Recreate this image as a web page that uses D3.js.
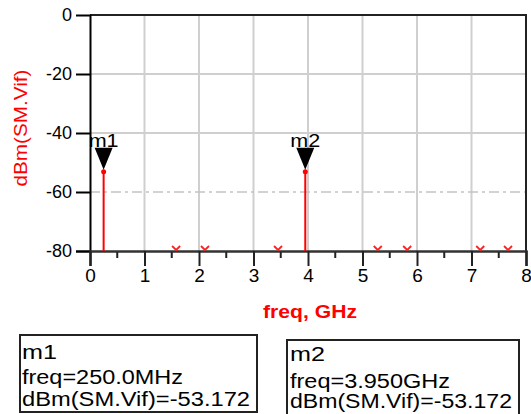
<!DOCTYPE html>
<html>
<head>
<meta charset="utf-8">
<script src="https://cdn.jsdelivr.net/npm/d3@7"></script>
<style>
  html, body { margin: 0; padding: 0; background: #fff; }
  svg { display: block; font-family: "Liberation Sans", Arial, sans-serif; }
</style>
</head>
<body>
<svg id="chart" width="531" height="414"></svg>
<script>
// Spectrum of SM.Vif (dBm) versus frequency (GHz)
const markerNames = ["m1", "m2"];
const markerFreqs = [0.25, 3.95];          // GHz
const markerValues = [-53.172, -53.172];   // dBm
const markerFreqText = ["250.0MHz", "3.950GHz"];

// tones that fall below the bottom of the plotted range (shown as clip arrows)
const offScaleFreqs = [1.58, 2.11, 3.45, 5.28, 5.82, 7.16, 7.67];

const xTicks = [0, 1, 2, 3, 4, 5, 6, 7, 8];
const xMinorTicks = [0.5, 1.5, 2.5, 3.5, 4.5, 5.5, 6.5, 7.5];
const yTicks = [0, -20, -40, -60, -80];

const svg = d3.select("#chart");
const x = d3.scaleLinear().domain([0, 8]).range([90, 526]);
const y = d3.scaleLinear().domain([-80, 0]).range([251, 15]);

// grid
const grid = svg.append("g");
grid.selectAll("line.vg").data(xTicks.slice(1, -1)).join("line")
  .attr("x1", d => x(d)).attr("x2", d => x(d))
  .attr("y1", y(0)).attr("y2", y(-80))
  .attr("stroke", "#cfcfcf").attr("stroke-width", 2);
grid.selectAll("line.hg").data([-20, -40]).join("line")
  .attr("x1", x(0)).attr("x2", x(8))
  .attr("y1", d => y(d)).attr("y2", d => y(d))
  .attr("stroke", "#cfcfcf").attr("stroke-width", 2);
grid.append("line")
  .attr("x1", x(0)).attr("x2", x(8))
  .attr("y1", y(-60)).attr("y2", y(-60))
  .attr("stroke", "#c4c4c4").attr("stroke-width", 1.5)
  .attr("stroke-dasharray", "10,4,3,4");

// frame (top and right)
svg.append("path")
  .attr("d", `M${x(0)},${y(0)}H${x(8)}V${y(-80)}`)
  .attr("fill", "none").attr("stroke", "#222").attr("stroke-width", 2);

// y axis
const yAxis = svg.append("g")
  .attr("transform", `translate(${x(0)},0)`)
  .call(d3.axisLeft(y).tickValues(yTicks).tickSize(14).tickPadding(4)
    .tickFormat(d => String(d)));
yAxis.select(".domain").attr("stroke", "#000").attr("stroke-width", 2);
yAxis.selectAll(".tick line").attr("stroke", "#000").attr("stroke-width", 2)
  .filter(d => d === 0).remove();
yAxis.selectAll(".tick text").attr("font-size", 18).attr("fill", "#000")
  .attr("font-family", "Liberation Sans, Arial, sans-serif");

// x axis
const xAxis = svg.append("g")
  .attr("transform", `translate(0,${y(-80)})`)
  .call(d3.axisBottom(x).tickValues(xTicks).tickSize(15).tickFormat(d => String(d)));
xAxis.select(".domain").attr("stroke", "#333").attr("stroke-width", 2.5);
xAxis.selectAll(".tick line").attr("stroke", "#222").attr("stroke-width", 2);
xAxis.selectAll(".tick text").attr("font-size", 19).attr("fill", "#000")
  .attr("y", 31).attr("dy", 0)
  .attr("font-family", "Liberation Sans, Arial, sans-serif");
xAxis.selectAll("line.minor").data(xMinorTicks).join("line")
  .attr("class", "minor")
  .attr("x1", d => x(d)).attr("x2", d => x(d))
  .attr("y1", 1).attr("y2", 7)
  .attr("stroke", "#222").attr("stroke-width", 2);

// axis titles
svg.append("text")
  .attr("transform", `translate(27,128) rotate(-90)`)
  .attr("text-anchor", "middle")
  .attr("fill", "#ff0000").attr("font-size", 19)
  .attr("textLength", 117).attr("lengthAdjust", "spacingAndGlyphs")
  .text("dBm(SM.Vif)");
svg.append("text")
  .attr("x", 310).attr("y", 318)
  .attr("text-anchor", "middle")
  .attr("fill", "#ff0000").attr("font-size", 18).attr("font-weight", "bold")
  .attr("textLength", 94).attr("lengthAdjust", "spacingAndGlyphs")
  .text("freq, GHz");

// off-scale tones: small red chevrons on the bottom edge
svg.append("g").selectAll("path").data(offScaleFreqs).join("path")
  .attr("d", d => `M${x(d) - 4},${y(-80) - 5}L${x(d)},${y(-80) - 1}L${x(d) + 4},${y(-80) - 5}`)
  .attr("fill", "none").attr("stroke", "#ff2020").attr("stroke-width", 1.8);

// marker stems
const stems = svg.append("g");
markerFreqs.forEach((f, i) => {
  const cx = x(f), cy = y(markerValues[i]);
  stems.append("line")
    .attr("x1", cx).attr("x2", cx).attr("y1", y(-80)).attr("y2", cy)
    .attr("stroke", "#ff0000").attr("stroke-width", 2);
  stems.append("circle").attr("cx", cx).attr("cy", cy).attr("r", 2.5).attr("fill", "#ff0000");
  stems.append("path")
    .attr("d", `M${cx - 9},${cy - 24}L${cx + 9},${cy - 24}L${cx},${cy - 2}Z`)
    .attr("fill", "#000");
  stems.append("text")
    .attr("x", cx).attr("y", cy - 25)
    .attr("text-anchor", "middle").attr("font-size", 19).attr("fill", "#000")
    .attr("textLength", 30).attr("lengthAdjust", "spacingAndGlyphs")
    .text(markerNames[i]);
});

// marker readout boxes
const boxes = [
  { x0: 20, y0: 335, w: 237, h: 77, tx: 22, lines: [352, 377, 399], lens: [35, 161, 228] },
  { x0: 287, y0: 340, w: 232, h: 76, tx: 290, lines: [354, 381, 401], lens: [35, 160, 222] }
];
boxes.forEach((b, i) => {
  const g = svg.append("g");
  g.append("rect").attr("x", b.x0).attr("y", b.y0).attr("width", b.w).attr("height", b.h)
    .attr("fill", "#fff").attr("stroke", "#222").attr("stroke-width", 2);
  const texts = [
    markerNames[i],
    `freq=${markerFreqText[i]}`,
    `dBm(SM.Vif)=${markerValues[i].toFixed(3)}`
  ];
  texts.forEach((t, j) => {
    g.append("text")
      .attr("x", b.tx).attr("y", b.lines[j]).attr("dy", "0.35em")
      .attr("font-size", 20).attr("fill", "#000")
      .attr("textLength", b.lens[j]).attr("lengthAdjust", "spacingAndGlyphs")
      .text(t);
  });
});
</script>
</body>
</html>
